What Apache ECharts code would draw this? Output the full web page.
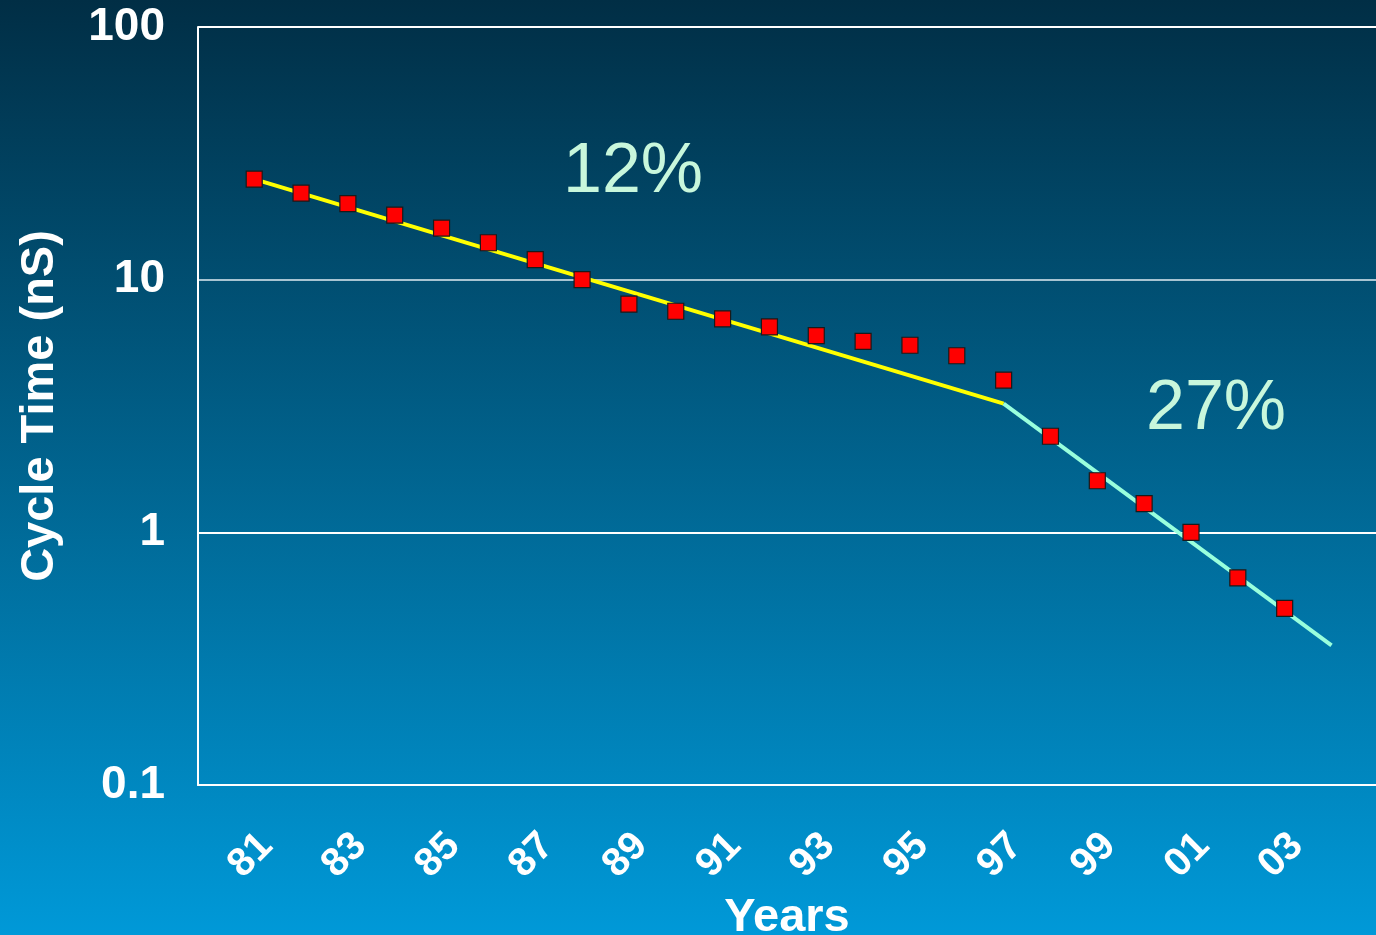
<!DOCTYPE html>
<html>
<head>
<meta charset="utf-8">
<style>
  html, body { margin: 0; padding: 0; width: 1376px; height: 935px; overflow: hidden; }
  #chart { width: 1376px; height: 935px; }
</style>
<script src="https://cdn.jsdelivr.net/npm/echarts@6/dist/echarts.min.js"></script>
</head>
<body>
<div id="chart"></div>
<script>
// ---- data ----
var years = [1981, 1982, 1983, 1984, 1985, 1986, 1987, 1988, 1989, 1990, 1991, 1992,
             1993, 1994, 1995, 1996, 1997, 1998, 1999, 2000, 2001, 2002, 2003];
var cycleTimeNs = [25, 22, 20, 18, 16, 14, 12, 10, 8.0, 7.5, 7.0, 6.5,
                   6.0, 5.7, 5.5, 5.0, 4.0, 2.4, 1.6, 1.3, 1.0, 0.66, 0.5];
var trend12Years = [1981, 1997];
var trend12Values = [25, 3.23];
var trend27Years = [1997, 2004];
var trend27Values = [3.23, 0.357];
var xTickYears = [1981, 1983, 1985, 1987, 1989, 1991, 1993, 1995, 1997, 1999, 2001, 2003];
var yTickValues = [0.1, 1, 10, 100];
var rateLabels = ['12%', '27%'];

function zip(a, b) { return a.map(function (v, i) { return [v, b[i]]; }); }

var FONT = '"Liberation Sans", Arial, sans-serif';
var chart = echarts.init(document.getElementById('chart'), null, { renderer: 'canvas' });

chart.setOption({
  animation: false,
  backgroundColor: {
    type: 'linear', x: 0, y: 0, x2: 0, y2: 1,
    colorStops: [
      { offset: 0, color: '#012e45' },
      { offset: 1, color: '#0099d8' }
    ]
  },
  grid: { left: 198, right: 0, top: 27, bottom: 150, containLabel: false, outerBoundsMode: 'none' },
  xAxis: {
    type: 'value',
    min: 1979.8,
    max: 2004.95,
    name: 'Years',
    nameLocation: 'middle',
    nameGap: 110,
    nameTextStyle: { color: '#ffffff', fontSize: 47, fontWeight: 'bold', fontFamily: FONT },
    axisLine: { show: true, onZero: false, lineStyle: { color: '#ffffff', width: 2 } },
    axisTick: { show: false },
    splitLine: { show: false },
    axisLabel: {
      customValues: xTickYears,
      rotate: 45,
      margin: 67,
      align: 'center',
      verticalAlign: 'middle',
      padding: [10, 10, 0, 0],
      color: '#ffffff',
      fontSize: 40,
      fontWeight: 'bold',
      fontFamily: FONT,
      formatter: function (v) { var s = String(Math.round(v) % 100); return s.length < 2 ? '0' + s : s; }
    }
  },
  yAxis: {
    type: 'log',
    logBase: 10,
    min: 0.1,
    max: 100,
    name: 'Cycle Time (nS)',
    nameLocation: 'middle',
    nameRotate: 90,
    nameGap: 134,
    nameTextStyle: { color: '#ffffff', fontSize: 47, fontWeight: 'bold', fontFamily: FONT },
    axisLine: { show: true, lineStyle: { color: '#ffffff', width: 2 } },
    axisTick: { show: false },
    axisLabel: {
      margin: 33,
      color: '#ffffff',
      fontSize: 46,
      fontWeight: 'bold',
      fontFamily: FONT,
      formatter: function (v) {
        for (var i = 0; i < yTickValues.length; i++) {
          if (Math.abs(v - yTickValues[i]) / yTickValues[i] < 1e-6) return String(yTickValues[i]);
        }
        return '';
      }
    },
    splitLine: {
      show: true,
      lineStyle: { color: ['#ffffff', '#ffffff', '#a8c4d2', '#ffffff'], width: 2 }
    }
  },
  graphic: [
    {
      type: 'text', left: 563, top: 138, z: 10,
      style: { text: rateLabels[0], fill: '#c8f7dc', font: 'normal 70px ' + FONT }
    },
    {
      type: 'text', left: 1146, top: 375, z: 10,
      style: { text: rateLabels[1], fill: '#c8f7dc', font: 'normal 70px ' + FONT }
    }
  ],
  series: [
    {
      type: 'line',
      data: zip(trend12Years, trend12Values),
      symbol: 'none',
      lineStyle: { color: '#ffff00', width: 4 },
      z: 3
    },
    {
      type: 'line',
      data: zip(trend27Years, trend27Values),
      symbol: 'none',
      lineStyle: { color: '#99ffdd', width: 4 },
      z: 3
    },
    {
      type: 'scatter',
      data: zip(years, cycleTimeNs),
      symbol: 'rect',
      symbolSize: 16,
      itemStyle: { color: '#ff0000', borderColor: '#1a1a1a', borderWidth: 1.2, opacity: 1 },
      z: 5
    }
  ]
});
</script>
</body>
</html>
